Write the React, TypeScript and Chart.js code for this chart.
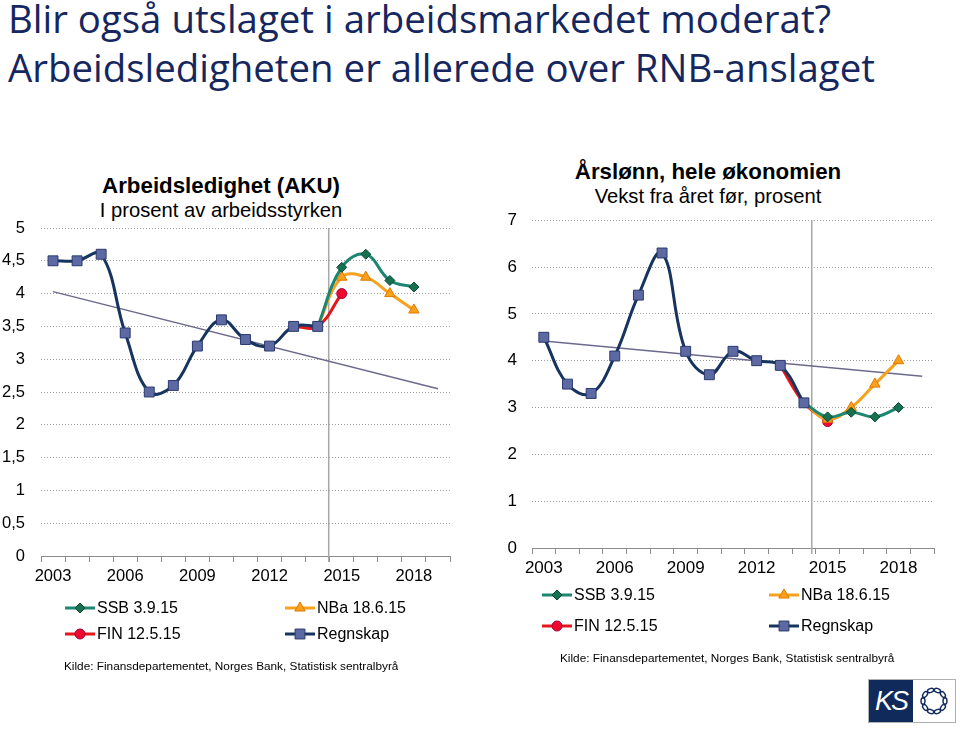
import React, { useEffect, useRef } from 'react';
import { Chart, registerables } from 'chart.js';

Chart.register(...registerables);

// ---------- Data ----------
const years = ['2003', '2004', '2005', '2006', '2007', '2008', '2009', '2010', '2011', '2012', '2013', '2014', '2015', '2016', '2017', '2018', '2019'];
const shownYears = ['2003', '2006', '2009', '2012', '2015', '2018'];

// Arbeidsledighet (AKU), prosent av arbeidsstyrken
const ledRegnskap = [4.5, 4.5, 4.6, 3.4, 2.5, 2.6, 3.2, 3.6, 3.3, 3.2, 3.5, 3.5, null, null, null, null, null];
const ledSSB = [null, null, null, null, null, null, null, null, null, null, null, 3.5, 4.4, 4.6, 4.2, 4.1, null];
const ledNBa = [null, null, null, null, null, null, null, null, null, null, null, 3.5, 4.25, 4.25, 4.0, 3.75, null];
const ledFIN = [null, null, null, null, null, null, null, null, null, null, 3.5, 3.5, 4.0, null, null, null, null];
const ledTrend = [4.03, null, null, null, null, null, null, null, null, null, null, null, null, null, null, null, 2.55];

// Årslønn, vekst fra året før, prosent
const lonnRegnskap = [4.5, 3.5, 3.3, 4.1, 5.4, 6.3, 4.2, 3.7, 4.2, 4.0, 3.9, 3.1, null, null, null, null, null];
const lonnSSB = [null, null, null, null, null, null, null, null, null, null, null, 3.1, 2.8, 2.9, 2.8, 3.0, null];
const lonnNBa = [null, null, null, null, null, null, null, null, null, null, null, 3.1, 2.75, 3.0, 3.5, 4.0, null];
const lonnFIN = [null, null, null, null, null, null, null, null, null, null, 3.9, 3.1, 2.7, null, null, null, null];
const lonnTrend = [4.42, null, null, null, null, null, null, null, null, null, null, null, null, null, null, null, 3.67];

const seriesLabels = ['SSB 3.9.15', 'NBa 18.6.15', 'FIN 12.5.15', 'Regnskap'];

// ---------- Styles ----------
const FONT = "'Liberation Sans', Arial, sans-serif";

const styles = {
  ssb: { line: '#1c8670', fill: '#17704f', stroke: '#0c4a33', shape: 'rectRot', r: 5 },
  nba: { line: '#f6a21f', fill: '#f9a11b', stroke: '#e07800', shape: 'triangle', r: 6 },
  fin: { line: '#e3161c', fill: '#ee0a2c', stroke: '#a8003c', shape: 'circle', r: 5 },
  reg: { line: '#17345e', fill: '#5d69a3', stroke: '#2a3a6c', shape: 'rect', r: 7 },
  trend: '#6b6a8c',
  vline: '#a8a8a8',
  axis: '#8c8c8c',
  grid: '#a0a0a0',
};

function drawMarker(ctx: CanvasRenderingContext2D, shape: string, x: number, y: number, r: number, fill: string, stroke: string) {
  ctx.save();
  ctx.beginPath();
  if (shape === 'rect') {
    const s = Math.SQRT1_2 * r;
    ctx.rect(x - s, y - s, 2 * s, 2 * s);
  } else if (shape === 'rectRot') {
    ctx.moveTo(x - r, y);
    ctx.lineTo(x, y - r);
    ctx.lineTo(x + r, y);
    ctx.lineTo(x, y + r);
    ctx.closePath();
  } else if (shape === 'triangle') {
    ctx.moveTo(x, y - r);
    ctx.lineTo(x + r * Math.cos(Math.PI / 6), y + r / 2);
    ctx.lineTo(x - r * Math.cos(Math.PI / 6), y + r / 2);
    ctx.closePath();
  } else {
    ctx.arc(x, y, r, 0, Math.PI * 2);
  }
  ctx.fillStyle = fill;
  ctx.fill();
  ctx.lineWidth = 1;
  ctx.strokeStyle = stroke;
  ctx.stroke();
  ctx.restore();
}

const overlayPlugin = {
  id: 'overlay',
  beforeDatasetsDraw(chart: any, _args: any, opts: any) {
    const { ctx, chartArea, scales } = chart;
    const x = (scales.x.getPixelForValue(opts.splitIndex) + scales.x.getPixelForValue(opts.splitIndex + 1)) / 2 + (opts.splitShift || 0);
    ctx.save();
    ctx.strokeStyle = styles.vline;
    ctx.lineWidth = 1.5;
    ctx.beginPath();
    ctx.moveTo(x, chartArea.top);
    ctx.lineTo(x, chartArea.bottom + 6);
    ctx.stroke();
    ctx.restore();
  },
  afterDraw(chart: any, _args: any, opts: any) {
    const { ctx } = chart;
    const lg = opts.legend;
    const order = [['ssb', 0, 0], ['nba', 1, 0], ['fin', 0, 1], ['reg', 1, 1]];
    ctx.save();
    order.forEach(([key, c, rIdx], i) => {
      const st = (styles as any)[key as string];
      const x0 = lg.cols[c as number];
      const y0 = lg.rows[rIdx as number];
      ctx.strokeStyle = st.line;
      ctx.lineWidth = 3;
      ctx.beginPath();
      ctx.moveTo(x0, y0);
      ctx.lineTo(x0 + lg.lineLen, y0);
      ctx.stroke();
      drawMarker(ctx, st.shape, x0 + lg.lineLen / 2, y0, st.r, st.fill, st.stroke);
      ctx.fillStyle = '#000';
      ctx.font = `${lg.fontSize}px ${FONT}`;
      ctx.textBaseline = 'middle';
      ctx.textAlign = 'left';
      ctx.fillText(seriesLabels[i], x0 + lg.lineLen + 2, y0 + 1);
    });
    ctx.restore();
  },
};

function ds(label: string, data: (number | null)[], key: 'ssb' | 'nba' | 'fin' | 'reg', order: number, reg: (number | null)[]) {
  const st = styles[key];
  return {
    label,
    data,
    borderColor: st.line,
    borderWidth: 3,
    tension: 0.4,
    pointStyle: st.shape,
    // forecast markers are hidden where they coincide with the accounts (Regnskap) points
    pointRadius: key === 'reg' ? st.r : (c: any) => (reg[c.dataIndex] != null ? 0 : st.r),
    pointBackgroundColor: st.fill,
    pointBorderColor: st.stroke,
    pointBorderWidth: 1,
    spanGaps: false,
    order,
  };
}

function makeConfig(p: any) {
  return {
    type: 'line',
    data: {
      labels: years,
      datasets: [
        ds(seriesLabels[3], p.reg, 'reg', 0, p.reg),
        ds(seriesLabels[0], p.ssb, 'ssb', 1, p.reg),
        ds(seriesLabels[1], p.nba, 'nba', 2, p.reg),
        ds(seriesLabels[2], p.fin, 'fin', 3, p.reg),
        {
          label: 'Trend',
          data: p.trend,
          borderColor: styles.trend,
          borderWidth: 1.5,
          pointRadius: 0,
          tension: 0,
          spanGaps: true,
          order: 10,
        },
      ],
    },
    options: {
      animation: false,
      responsive: false,
      maintainAspectRatio: false,
      layout: { padding: p.padding },
      plugins: {
        legend: { display: false },
        tooltip: { enabled: false },
        overlay: { splitIndex: 11, splitShift: p.splitShift, legend: p.legend },
      },
      scales: {
        x: {
          type: 'category',
          offset: true,
          grid: { offset: true, drawOnChartArea: false, drawTicks: true, tickLength: 6, color: styles.axis, lineWidth: 1 },
          border: { display: true, color: styles.axis, width: 1 },
          ticks: {
            autoSkip: false,
            maxRotation: 0,
            padding: p.xPad,
            color: '#000',
            font: { family: FONT, size: p.tickSize },
            callback: (_v: any, i: number) => (shownYears.includes(years[i]) ? years[i] : ''),
          },
          afterFit: (s: any) => { s.height = 30; },
        },
        y: {
          min: 0,
          max: p.max,
          ticks: {
            stepSize: p.step,
            padding: p.yPad,
            color: '#000',
            font: { family: FONT, size: p.tickSize },
            callback: (v: any) => String(v).replace('.', ','),
          },
          grid: { drawTicks: false, color: styles.grid, lineWidth: 1 },
          border: { display: false, dash: [1, 2] },
          afterFit: (s: any) => { s.width = p.yWidth; },
        },
      },
    },
    plugins: [overlayPlugin],
  };
}

function ChartCanvas({ params, left, top, width, height }: any) {
  const ref = useRef<HTMLCanvasElement | null>(null);
  useEffect(() => {
    if (!ref.current) return;
    const chart = new Chart(ref.current, makeConfig(params) as any);
    return () => chart.destroy();
  }, []);
  return (
    <canvas
      ref={ref}
      width={width}
      height={height}
      style={{ position: 'absolute', left, top, width, height }}
    />
  );
}

const leftParams = {
  reg: ledRegnskap, ssb: ledSSB, nba: ledNBa, fin: ledFIN, trend: ledTrend,
  max: 5, step: 0.5, yWidth: 41, yPad: 16, tickSize: 16.5, xPad: 5, splitShift: -1,
  padding: { top: 28, right: 20, bottom: 74, left: 0 },
  legend: { cols: [65, 285], rows: [408, 434], lineLen: 30, fontSize: 16 },
};

const rightParams = {
  reg: lonnRegnskap, ssb: lonnSSB, nba: lonnNBa, fin: lonnFIN, trend: lonnTrend,
  max: 7, step: 1, yWidth: 52, yPad: 15, tickSize: 17, xPad: 4, splitShift: -4,
  padding: { top: 21, right: 16, bottom: 72, left: 0 },
  legend: { cols: [62, 289], rows: [400, 431], lineLen: 30, fontSize: 16 },
};

function KSLogo() {
  const links = Array.from({ length: 10 }, (_, i) => i);
  return (
    <div style={{ position: 'absolute', left: 868, top: 679, width: 88, height: 44, border: '1px solid #b0b0b0', boxSizing: 'border-box', background: '#fff' }}>
      <div style={{ position: 'absolute', left: 0, top: 0, width: 44, height: 42, background: '#102a5c', color: '#fff', fontFamily: FONT, fontStyle: 'italic', fontSize: 27, lineHeight: '42px', textAlign: 'center', letterSpacing: -2 }}>KS</div>
      <svg style={{ position: 'absolute', left: 44, top: 0 }} width={42} height={42}>
        {links.map((i) => {
          const a = (i / links.length) * Math.PI * 2;
          const cx = 21 + Math.cos(a) * 11;
          const cy = 21 + Math.sin(a) * 11;
          return (
            <ellipse key={i} cx={cx} cy={cy} rx={3.2} ry={2} transform={`rotate(${(a * 180) / Math.PI + 90} ${cx} ${cy})`} fill="none" stroke="#102a5c" strokeWidth={1.4} />
          );
        })}
      </svg>
    </div>
  );
}

export default function App() {
  return (
    <div style={{ position: 'absolute', left: 0, top: 0, width: 960, height: 729, background: '#fff', overflow: 'hidden' }}>
      <div style={{ position: 'absolute', left: 8, top: -6, fontFamily: "'Open Sans', sans-serif", fontSize: 38.4, lineHeight: '49px', color: '#15275e', whiteSpace: 'nowrap' }}>
        <div>Blir også utslaget i arbeidsmarkedet moderat?</div>
        <div>Arbeidsledigheten er allerede over RNB-anslaget</div>
      </div>

      <div style={{ position: 'absolute', left: 21, top: 173, width: 400, textAlign: 'center', fontFamily: FONT, color: '#000' }}>
        <div style={{ fontWeight: 'bold', fontSize: 22.3, lineHeight: '25px' }}>Arbeidsledighet (AKU)</div>
        <div style={{ fontSize: 20.2, lineHeight: '25px' }}>I prosent av arbeidsstyrken</div>
      </div>

      <div style={{ position: 'absolute', left: 508, top: 159, width: 400, textAlign: 'center', fontFamily: FONT, color: '#000' }}>
        <div style={{ fontWeight: 'bold', fontSize: 22.3, lineHeight: '25px' }}>Årslønn, hele økonomien</div>
        <div style={{ fontSize: 20.2, lineHeight: '25px' }}>Vekst fra året før, prosent</div>
      </div>

      <ChartCanvas params={leftParams} left={0} top={200} width={470} height={460} />
      <ChartCanvas params={rightParams} left={480} top={195} width={470} height={455} />

      <div style={{ position: 'absolute', left: 64, top: 659, height: 13, overflow: 'hidden', fontFamily: FONT, fontSize: 11.8, lineHeight: '15px', color: '#000', whiteSpace: 'nowrap' }}>
        Kilde: Finansdepartementet, Norges Bank, Statistisk sentralbyrå
      </div>
      <div style={{ position: 'absolute', left: 560, top: 651, fontFamily: FONT, fontSize: 11.8, lineHeight: '15px', color: '#000', whiteSpace: 'nowrap' }}>
        Kilde: Finansdepartementet, Norges Bank, Statistisk sentralbyrå
      </div>

      <KSLogo />
    </div>
  );
}
